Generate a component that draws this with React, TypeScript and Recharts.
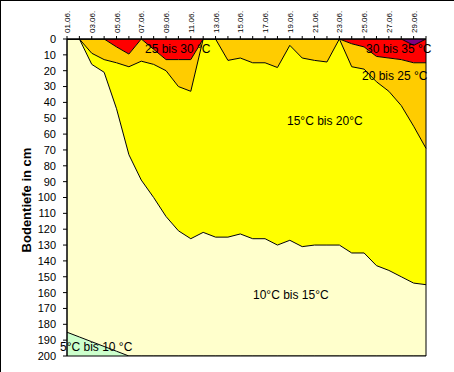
import { ComposedChart, Area, Line, XAxis, YAxis, ReferenceArea } from 'recharts';

const days = [
  '01.06.', '02.06.', '03.06.', '04.06.', '05.06.', '06.06.', '07.06.', '08.06.', '09.06.', '10.06.',
  '11.06.', '12.06.', '13.06.', '14.06.', '15.06.', '16.06.', '17.06.', '18.06.', '19.06.', '20.06.',
  '21.06.', '22.06.', '23.06.', '24.06.', '25.06.', '26.06.', '27.06.', '28.06.', '29.06.', '30.06.',
];

// depth (cm) of each isotherm per day
const depth35 = [0, 0, 0, 0, 0, 0, 0, 0, 0, 0, 0, 0, 0, 0, 0, 0, 0, 0, 0, 0, 0, 0, 0, 0, 0, 0, 0, 0, 4, 0];
const depth25 = [0, 0, 0, 0, 5, 9.5, 0, 6.5, 13, 13, 13, 0, 0, 0, 0, 0, 0, 0, 0, 0, 0, 0, 0, 3, 5, 11, 12, 13, 15, 15];
const depth20 = [0, 0, 9, 13, 15, 17.5, 14, 16, 20, 30, 33, 0, 0, 13.5, 12, 15, 15, 18, 4, 12, 13.5, 14.5, 0, 17.5, 19, 27, 33, 42, 55, 69];
const depth15 = [0, 0, 16, 21, 44, 73, 89, 100, 112, 121, 126, 122, 125, 125, 123, 126, 126, 130, 127, 131, 130, 130, 130, 135, 135, 143, 146, 150, 154, 155];
const depth10 = [185, 188, 191, 194, 197, 200, 200, 200, 200, 200, 200, 200, 200, 200, 200, 200, 200, 200, 200, 200, 200, 200, 200, 200, 200, 200, 200, 200, 200, 200];

const depthTicks = [0, 10, 20, 30, 40, 50, 60, 70, 80, 90, 100, 110, 120, 130, 140, 150, 160, 170, 180, 190, 200];
const MAX_DEPTH = 200;

const FONT = 'Arial, "Liberation Sans", sans-serif';

const data = days.map((day, i) => ({
  day,
  d35: depth35[i],
  d25: depth25[i],
  d20: depth20[i],
  d15: depth15[i],
  d10: depth10[i],
  purple: depth35[i],
  red: depth25[i] - depth35[i],
  orange: depth20[i] - depth25[i],
  yellow: depth15[i] - depth20[i],
  pale: depth10[i] - depth15[i],
  green: MAX_DEPTH - depth10[i],
}));

const bands = [
  { key: 'purple', color: '#800080' },
  { key: 'red', color: '#FF0000' },
  { key: 'orange', color: '#FFCC00' },
  { key: 'yellow', color: '#FFFF00' },
  { key: 'pale', color: '#FFFFCC' },
  { key: 'green', color: '#CCFFCC' },
];

const isolines = ['d35', 'd25', 'd20', 'd15', 'd10'];

const zoneLabels = [
  { text: '25 bis 30 °C', x: 144, y: 52 },
  { text: '30 bis 35 °C', x: 365, y: 52 },
  { text: '20 bis 25 °C', x: 361, y: 79 },
  { text: '15°C bis 20°C', x: 286, y: 124 },
  { text: '10°C bis 15°C', x: 252, y: 298 },
  { text: '5°C bis 10 °C', x: 59, y: 350 },
];

function DayTick({ x, payload, index }: any) {
  if (index % 2 !== 0) return <g />;
  const tx = x + 3;
  return (
    <text x={tx} y={32} transform={`rotate(-90 ${tx} 32)`} textAnchor="start"
      fontSize={8} fontFamily={FONT} fill="#000">
      {payload.value}
    </text>
  );
}

export default function App() {
  return (
    <div style={{
      position: 'absolute', left: 0, top: 0, width: 454, height: 372,
      background: '#fff', borderTop: '1px solid #000', borderLeft: '1px solid #000',
      boxSizing: 'border-box',
    }}>
      <ComposedChart width={453} height={371} data={data}
        margin={{ top: 8, right: 28, bottom: 16, left: 0 }}>
        <XAxis dataKey="day" orientation="top" scale="point" interval={0} height={30}
          axisLine={{ stroke: '#000' }} tickLine={{ stroke: '#000' }} tickSize={3}
          tick={<DayTick />} />
        <YAxis reversed domain={[0, MAX_DEPTH]} ticks={depthTicks} interval={0} width={66}
          allowDataOverflow axisLine={{ stroke: '#000' }} tickLine={{ stroke: '#000' }}
          tickSize={4} tickMargin={7}
          tick={{ fontSize: 11, fontFamily: FONT, fill: '#000' }} />
        {bands.map((b) => (
          <Area key={b.key} dataKey={b.key} stackId="t" type="linear"
            fill={b.color} fillOpacity={1} stroke="none" isAnimationActive={false} />
        ))}
        {isolines.map((k) => (
          <Line key={k} dataKey={k} type="linear" stroke="#000" strokeWidth={1}
            dot={false} activeDot={false} isAnimationActive={false} />
        ))}
        <ReferenceArea x1={days[0]} x2={days[days.length - 1]} y1={0} y2={MAX_DEPTH}
          fill="none" stroke="#000" strokeWidth={1} />
      </ComposedChart>
      <svg width={453} height={371}
        style={{ position: 'absolute', left: 0, top: 0, pointerEvents: 'none' }}>
        <text x={30} y={199} transform="rotate(-90 30 199)" textAnchor="middle"
          fontSize={13} fontWeight="bold" fontFamily={FONT} fill="#000">
          Bodentiefe in cm
        </text>
        {zoneLabels.map((l) => (
          <text key={l.text} x={l.x} y={l.y} fontSize={12} fontFamily={FONT} fill="#000">
            {l.text}
          </text>
        ))}
      </svg>
    </div>
  );
}
